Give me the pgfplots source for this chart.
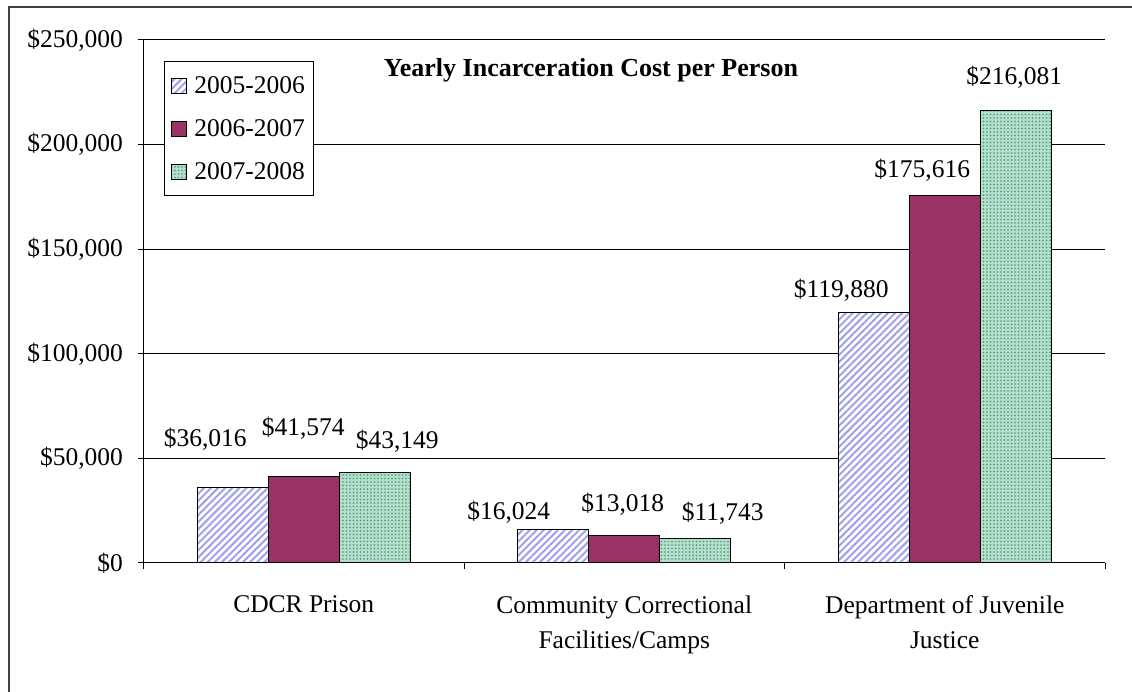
\documentclass[border=0pt]{standalone}
\usepackage{fontspec}
\setmainfont{Liberation Serif}
\usepackage{pgfplots}
\usepackage{pgfplotstable}
\pgfplotsset{compat=1.18}
\usetikzlibrary{patterns,patterns.meta}
\definecolor{lav}{RGB}{160,160,235}
\definecolor{plum}{RGB}{153,51,102}
\definecolor{mint}{RGB}{178,224,202}
\definecolor{mintdot}{RGB}{80,145,120}

\pgfplotstableread{
x y lab dx dy
0 36016 {\$36,016} -27.5 40.7
1 16024 {\$16,024} -44.5 9.5
2 119880 {\$119,880} -32.5 15.2
}\tA
\pgfplotstableread{
x y lab dx dy
0 41574 {\$41,574} -0.5 41
1 13018 {\$13,018} -1.5 23.8
2 175616 {\$175,616} -22.5 18.6
}\tB
\pgfplotstableread{
x y lab dx dy
0 43149 {\$43,149} 22.5 24.7
1 11743 {\$11,743} 27.5 18.4
2 216081 {\$216,081} -1.5 26
}\tC

\newcommand{\fs}{\fontsize{25.5}{35}\selectfont}
\pgfplotsset{lbl/.style={
  nodes near coords,
  point meta=explicit symbolic,
  visualization depends on={\thisrow{dx}\as\dx},
  visualization depends on={\thisrow{dy}\as\dy},
  every node near coord/.append style={anchor=base, xshift=\dx pt, yshift=\dy pt, font=\fs, black},
}}

\begin{document}
\begin{tikzpicture}[x=1pt,y=1pt]
\useasboundingbox (0,0) rectangle (1132,692);
\draw[line width=2pt, black!75] (9,-5) -- (9,685) -- (1140,685);
\begin{axis}[
  at={(143.5pt,129pt)}, anchor=south west,
  scale only axis, width=961.5pt, height=523pt,
  ybar=0pt, bar width=71pt,
  xmin=-0.5, xmax=2.5, ymin=0, ymax=250000,
  axis x line*=bottom, axis y line*=left,
  tick align=outside, major tick length=6pt,
  scaled y ticks=false,
  ytick={0,50000,100000,150000,200000,250000},
  yticklabels={{\$0},{\$50,000},{\$100,000},{\$150,000},{\$200,000},{\$250,000}},
  ymajorgrids, grid style={black, line width=1pt},
  xtick={-0.5,0.5,1.5,2.5}, xticklabels={},
  extra x ticks={0,1,2},
  extra x tick labels={{CDCR Prison},{Community Correctional\\Facilities/Camps},{Department of Juvenile\\Justice}},
  extra x tick style={major tick length=0pt},
  x tick label style={align=center, font=\fs, yshift=-29pt},
  y tick label style={font=\fs, xshift=-11pt},
  axis line style={black, line width=1pt},
  tick style={black, line width=1pt},
  legend image code/.code={\draw[#1] (0pt,-7.5pt) rectangle (15pt,7.5pt); \path (20pt,0pt);},
  legend cell align=left,
  legend style={at={(0.0213,0.96)}, anchor=north west, draw=black, line width=1pt, fill=white,
    font=\fs, row sep=20.5pt, inner xsep=7pt, inner ysep=13pt},
]
\addplot[fill=white, draw=black, line width=1pt,
  postaction={pattern={Lines[angle=45,distance=5pt,line width=2pt]}, pattern color=lav}, lbl]
  table[x=x,y=y,meta=lab]{\tA};
\addplot[fill=plum, draw=black, line width=1pt, lbl]
  table[x=x,y=y,meta=lab]{\tB};
\addplot[fill=mint, draw=black, line width=1pt,
  postaction={pattern={Dots[distance=3.5pt,radius=0.9pt]}, pattern color=mintdot}, lbl]
  table[x=x,y=y,meta=lab]{\tC};
\legend{2005-2006,2006-2007,2007-2008}
\node[font=\bfseries\fontsize{26}{30}\selectfont, anchor=base] at (rel axis cs:0.4654,0.9293) {Yearly Incarceration Cost per Person};
\end{axis}
\end{tikzpicture}
\end{document}
